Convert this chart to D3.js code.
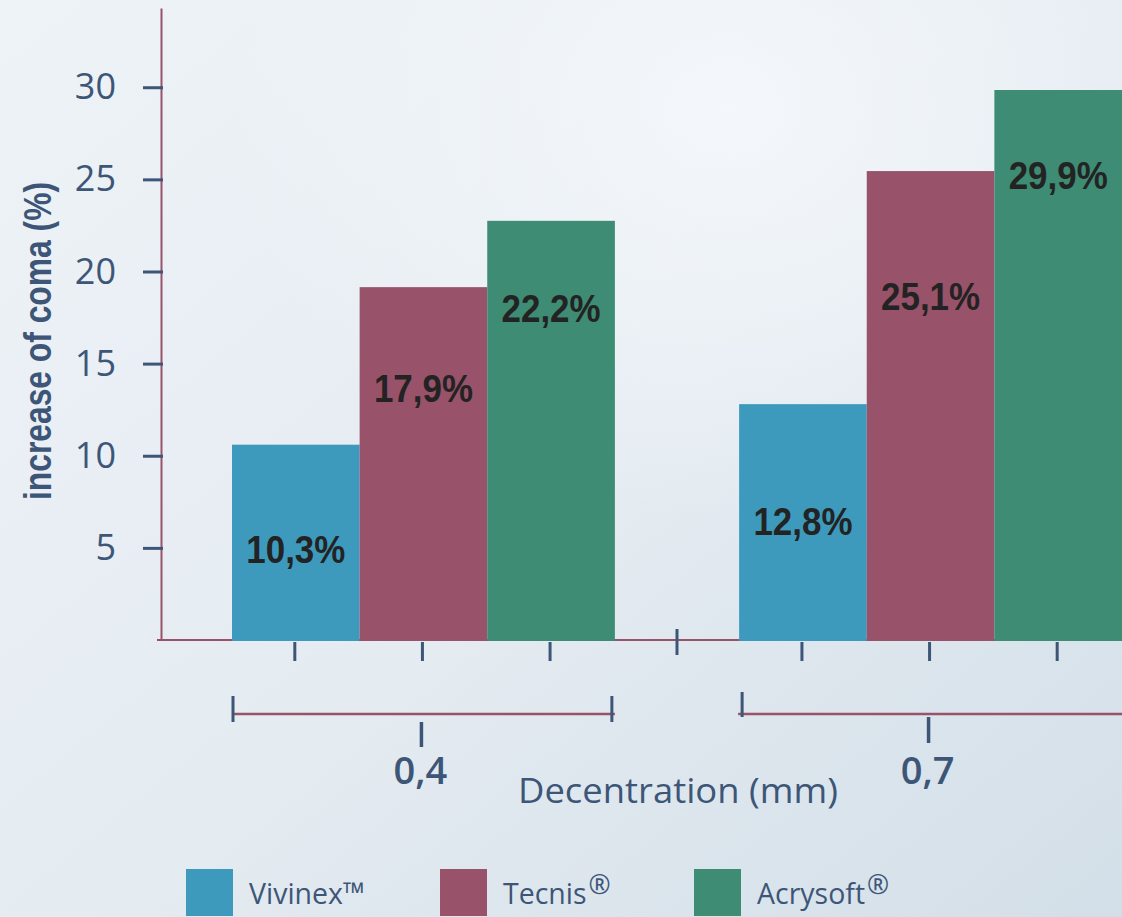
<!DOCTYPE html>
<html>
<head>
<meta charset="utf-8">
<script src="https://cdn.jsdelivr.net/npm/d3@7/dist/d3.min.js"></script>
<style>
  html, body { margin: 0; padding: 0; background: #e6edf2; }
  svg { display: block; }
</style>
</head>
<body>
<svg id="chart" width="1122" height="917"></svg>
<script>
// ---- data ----
const groups = ["0,4", "0,7"];
const series = ["Vivinex", "Tecnis", "Acrysoft"];
const legendLabels = ["Vivinex™", "Tecnis", "Acrysoft"];
const legendMarks = ["", "®", "®"];
const vivinex = [10.6, 12.8];
const tecnis = [19.15, 25.45];
const acrysoft = [22.75, 29.85];
const vivinexLabels = ["10,3%", "12,8%"];
const tecnisLabels = ["17,9%", "25,1%"];
const acrysoftLabels = ["22,2%", "29,9%"];
const vivinexLabelAt = [4.2, 5.7];
const tecnisLabelAt = [12.9, 17.9];
const acrysoftLabelAt = [17.25, 24.45];
const yTicks = [5, 10, 15, 20, 25, 30];
const yTop = 34.3;
const xTitle = "Decentration (mm)";
const yTitle = "increase of coma (%)";

const colors = { Vivinex: "#3d9abd", Tecnis: "#98526a", Acrysoft: "#3d8c73" };
const values = { Vivinex: vivinex, Tecnis: tecnis, Acrysoft: acrysoft };
const labels = { Vivinex: vivinexLabels, Tecnis: tecnisLabels, Acrysoft: acrysoftLabels };
const labelAt = { Vivinex: vivinexLabelAt, Tecnis: tecnisLabelAt, Acrysoft: acrysoftLabelAt };

const rows = [];
groups.forEach((g, gi) => series.forEach(s => rows.push({
  group: g, series: s, value: values[s][gi], label: labels[s][gi], at: labelAt[s][gi]
})));

// ---- layout ----
const W = 1122, H = 917;
const axisX = 161, baseY = 640;
const textColor = "#3d5678";
const maroon = "#98526a";

const svg = d3.select("#chart");

// background
const defs = svg.append("defs");
const lg = defs.append("linearGradient").attr("id", "bg").attr("x1", 0).attr("y1", 0).attr("x2", 1).attr("y2", 1);
lg.append("stop").attr("offset", "0%").attr("stop-color", "#eef3f7");
lg.append("stop").attr("offset", "55%").attr("stop-color", "#e4ebf1");
lg.append("stop").attr("offset", "100%").attr("stop-color", "#d3dfe8");
const rg = defs.append("radialGradient").attr("id", "glow").attr("cx", 0.65).attr("cy", 0.12).attr("r", 0.45);
rg.append("stop").attr("offset", "0%").attr("stop-color", "#f5f8fc").attr("stop-opacity", 0.9);
rg.append("stop").attr("offset", "100%").attr("stop-color", "#f5f8fc").attr("stop-opacity", 0);
svg.append("rect").attr("width", W).attr("height", H).attr("fill", "url(#bg)");
svg.append("rect").attr("width", W).attr("height", H).attr("fill", "url(#glow)");

// scales
const y = d3.scaleLinear().domain([0, yTop]).range([baseY, 8]);
const x0 = d3.scaleBand().domain(groups).range([232, 1122]).paddingInner(0.245).paddingOuter(0);
const x1 = d3.scaleBand().domain(series).range([0, x0.bandwidth()]).padding(0);

// baseline
svg.append("line")
  .attr("x1", 157).attr("x2", W).attr("y1", baseY).attr("y2", baseY)
  .attr("stroke", maroon).attr("stroke-width", 2);

// y axis
const yAxis = svg.append("g")
  .attr("transform", `translate(${axisX},0)`)
  .call(d3.axisLeft(y).tickValues(yTicks).tickSize(18).tickSizeOuter(0).tickPadding(27).tickFormat(d3.format("d")));
yAxis.select(".domain").attr("stroke", maroon).attr("stroke-width", 2);
yAxis.selectAll(".tick line").attr("stroke", textColor).attr("stroke-width", 3).attr("x2", 2).attr("x1", -18);
yAxis.selectAll(".tick text")
  .attr("fill", textColor)
  .style("font-family", "'Open Sans', sans-serif")
  .style("font-size", "36px");

// bars
const bars = svg.append("g");
bars.selectAll("rect").data(rows).join("rect")
  .attr("x", d => x0(d.group) + x1(d.series))
  .attr("width", x1.bandwidth())
  .attr("y", d => y(d.value))
  .attr("height", d => y(0) - y(d.value) + 1)
  .attr("fill", d => colors[d.series]);

// bar labels
svg.append("g").selectAll("text").data(rows).join("text")
  .attr("x", d => x0(d.group) + x1(d.series) + x1.bandwidth() / 2)
  .attr("y", d => y(d.at))
  .attr("text-anchor", "middle")
  .attr("fill", "#232323")
  .attr("textLength", 99)
  .attr("lengthAdjust", "spacingAndGlyphs")
  .style("font-family", "'Liberation Sans', Arial, sans-serif")
  .style("font-weight", "bold")
  .style("font-size", "38px")
  .text(d => d.label);

// x sub ticks under bars
const tickG = svg.append("g").attr("stroke", textColor).attr("stroke-width", 3);
tickG.selectAll("line.sub").data(rows).join("line").attr("class", "sub")
  .attr("x1", d => x0(d.group) + x1(d.series) + x1.bandwidth() / 2 - 1)
  .attr("x2", d => x0(d.group) + x1(d.series) + x1.bandwidth() / 2 - 1)
  .attr("y1", baseY + 2).attr("y2", baseY + 21);

// group separator tick
const sepX = x0(groups[1]) - x0.step() * x0.paddingInner() / 2;
tickG.append("line").attr("x1", sepX).attr("x2", sepX).attr("y1", baseY - 11).attr("y2", baseY + 15);

// group brackets
const brY = 714;
const br = svg.append("g");
groups.forEach((g, gi) => {
  const a = x0(g), b = x0(g) + x0.bandwidth();
  const c = a + x0.bandwidth() / 2;
  br.append("line").attr("x1", a + (gi ? -1 : 0)).attr("x2", b).attr("y1", brY).attr("y2", brY)
    .attr("stroke", maroon).attr("stroke-width", 2.5);
  br.append("line").attr("x1", a + (gi ? 3 : 1)).attr("x2", a + (gi ? 3 : 1))
    .attr("y1", brY - (gi ? 22 : 18)).attr("y2", brY + (gi ? 3 : 8))
    .attr("stroke", textColor).attr("stroke-width", 3);
  if (gi === 0) {
    br.append("line").attr("x1", b - 3).attr("x2", b - 3).attr("y1", brY - 18).attr("y2", brY + 8)
      .attr("stroke", textColor).attr("stroke-width", 3);
  }
  br.append("line").attr("x1", c - 2).attr("x2", c - 2)
    .attr("y1", brY + (gi ? 3 : 8)).attr("y2", brY + (gi ? 29 : 33))
    .attr("stroke", textColor).attr("stroke-width", 3.5);
  br.append("text")
    .attr("x", c - 3).attr("y", 784)
    .attr("text-anchor", "middle")
    .attr("fill", textColor)
    .style("font-family", "'Open Sans', sans-serif")
    .style("font-weight", "600")
    .style("font-size", "38px")
    .text(g);
});

// x title
svg.append("text")
  .attr("x", 678).attr("y", 803)
  .attr("text-anchor", "middle")
  .attr("fill", textColor)
  .attr("textLength", 320)
  .attr("lengthAdjust", "spacingAndGlyphs")
  .style("font-family", "'Open Sans', sans-serif")
  .style("font-size", "35px")
  .text(xTitle);

// y title
svg.append("text")
  .attr("transform", "translate(51,341) rotate(-90)")
  .attr("text-anchor", "middle")
  .attr("fill", textColor)
  .attr("textLength", 318)
  .attr("lengthAdjust", "spacingAndGlyphs")
  .style("font-family", "'Liberation Sans Narrow', 'Liberation Sans', sans-serif")
  .style("font-weight", "bold")
  .style("font-size", "39px")
  .text(yTitle);

// legend
const lx = d3.scalePoint().domain(series).range([186, 694]);
const leg = svg.append("g");
series.forEach((s, i) => {
  leg.append("rect").attr("x", lx(s)).attr("y", 869).attr("width", 47).attr("height", 47).attr("fill", colors[s]);
  const t = leg.append("text")
    .attr("x", lx(s) + 63).attr("y", 904)
    .attr("fill", textColor)
    .style("font-family", "'Open Sans', sans-serif")
    .style("font-size", "30px")
    .attr("transform", `translate(${(lx(s) + 63) * 0.05},0) scale(0.95,1)`);
  t.append("tspan").text(legendLabels[i]);
  if (legendMarks[i]) {
    t.append("tspan").attr("dy", -10).attr("dx", 2).style("font-size", "28px").text(legendMarks[i]);
  }
});
</script>
</body>
</html>
